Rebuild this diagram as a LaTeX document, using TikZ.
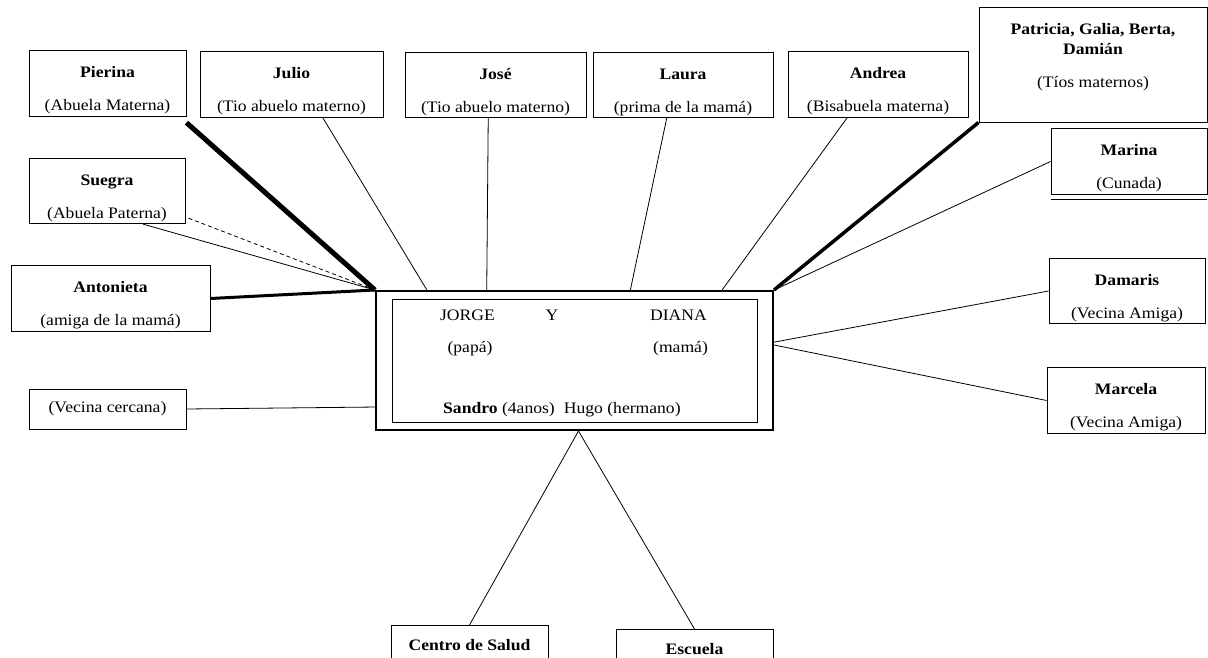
\documentclass[tikz,border=0pt]{standalone}
\usepackage{fontspec}
\setmainfont{Liberation Serif}[FakeStretch=1.1]
\usetikzlibrary{calc}

\newcommand{\kinname}[1]{\rule{0pt}{25pt}\textbf{#1}}

\tikzset{
  kin/.style={draw, line width=0.9pt, align=center, minimum height=65pt, inner sep=2pt, font=\fontsize{16}{20}\selectfont},
  tie/.style={line width=0.8pt},
  txt/.style={anchor=base, inner sep=0pt, font=\fontsize{16}{20}\selectfont},
}

\begin{document}
\begin{tikzpicture}[x=1pt,y=-1pt]
    \clip (0,0) rectangle (1208,658);

    % family in the middle
    \node[draw, line width=2pt, minimum width=397pt, minimum height=139pt] at (574.5,360.5) (fam) {};
    \node[draw, line width=0.9pt, minimum width=365pt, minimum height=123pt] at (574.5,360.5) (famin) {};
    \node[txt] at (467.5,320) (jorge) {JORGE};
    \node[txt] at (552,320) (y) {Y};
    \node[txt] at (678.5,320) (diana) {DIANA};
    \node[txt] at (470,352) (papa) {(papá)};
    \node[txt] at (680.5,352) (mama) {(mamá)};
    \node[txt, anchor=base west] at (443,413) (hijos) {\textbf{Sandro} (4anos)\hspace{9pt}Hugo (hermano)};

    % boxes round it
    \node[kin, minimum width=157pt] at (107.5,83.5) (pierina) {\kinname{Pierina}\\[13pt](Abuela Materna)};
    \node[kin, minimum width=183pt] at (291.5,84.5) (julio) {\kinname{Julio}\\[13pt](Tio abuelo materno)};
    \node[kin, minimum width=181pt] at (495.5,85) (jose) {\kinname{José}\\[13pt](Tio abuelo materno)};
    \node[kin, minimum width=180pt] at (683,85) (laura) {\kinname{Laura}\\[13pt](prima de la mamá)};
    \node[kin, minimum width=180pt] at (878,84.5) (andrea) {\kinname{Andrea}\\[13pt](Bisabuela materna)};
    \node[draw, line width=0.9pt, inner sep=0pt, font=\fontsize{16}{20}\selectfont] at (1093,64.5) (patricia)
        {\parbox[c][115pt][t]{228pt}{\centering\rule{0pt}{28pt}\textbf{Patricia, Galia, Berta,}\\\textbf{Damián}\\[13pt](Tíos maternos)}};
    \node[kin, minimum width=156pt] at (1129,161.5) (marina) {\kinname{Marina}\\[13pt](Cunada)};
    \draw[line width=0.9pt] ([yshift=-5pt]marina.south west) -- ([yshift=-5pt]marina.south east);
    \node[kin, minimum width=156pt] at (107,191) (suegra) {\kinname{Suegra}\\[13pt](Abuela Paterna)};
    \node[kin, minimum width=199pt, minimum height=63pt] at (110.5,298.5) (antonieta) {\kinname{Antonieta}\\[13pt](amiga de la mamá)};
    \node[kin, minimum width=156pt, minimum height=64pt] at (1127,291) (damaris) {\kinname{Damaris}\\[13pt](Vecina Amiga)};
    \node[kin, minimum width=158pt] at (1126,400.5) (marcela) {\kinname{Marcela}\\[13pt](Vecina Amiga)};
    \node[kin, minimum width=157pt, minimum height=40pt] at (107.5,409) (vecina) {(Vecina cercana)};
    \node[kin, minimum width=157pt, minimum height=40pt, anchor=north] at (469.5,625) (centro) {\textbf{Centro de Salud}};
    \node[kin, minimum width=157pt, minimum height=40pt, anchor=north] at (694.5,629) (escuela) {\textbf{Escuela}};

    % ties
    \draw[line width=5pt] ($(pierina.south east)+(0,6)$) -- (fam.north west);
    \draw[tie] ($(julio.south west)!0.67!(julio.south east)$) -- ($(fam.north west)!0.13!(fam.north east)$);
    \draw[tie] ($(jose.south west)!0.46!(jose.south east)$) -- ($(fam.north west)!0.28!(fam.north east)$);
    \draw[tie] ($(laura.south west)!0.41!(laura.south east)$) -- ($(fam.north west)!0.64!(fam.north east)$);
    \draw[tie] ($(andrea.south west)!0.33!(andrea.south east)$) -- ($(fam.north west)!0.87!(fam.north east)$);
    \draw[line width=3.5pt] (patricia.south west) -- (fam.north east);
    \draw[tie] (marina.west) -- (fam.north east);
    \draw[tie] (damaris.west) -- ($(fam.north east)!0.37!(fam.south east)$);
    \draw[tie] (marcela.west) -- ($(fam.north east)!0.39!(fam.south east)$);
    \draw[tie] (vecina.east) -- ($(fam.north west)!0.83!(fam.south west)$);
    \draw[line width=3pt] (antonieta.east) -- (fam.north west);
    \draw[tie] ($(suegra.south west)!0.73!(suegra.south east)$) -- (fam.north west);
    \draw[tie, dash pattern=on 4pt off 3pt] ($(suegra.south east)+(3,-6)$) -- (fam.north west);
    \draw[tie] ($(fam.south west)!0.51!(fam.south east)$) coordinate (apex) -- (centro.north);
    \draw[tie] (apex) -- (escuela.north);

\end{tikzpicture}
\end{document}
